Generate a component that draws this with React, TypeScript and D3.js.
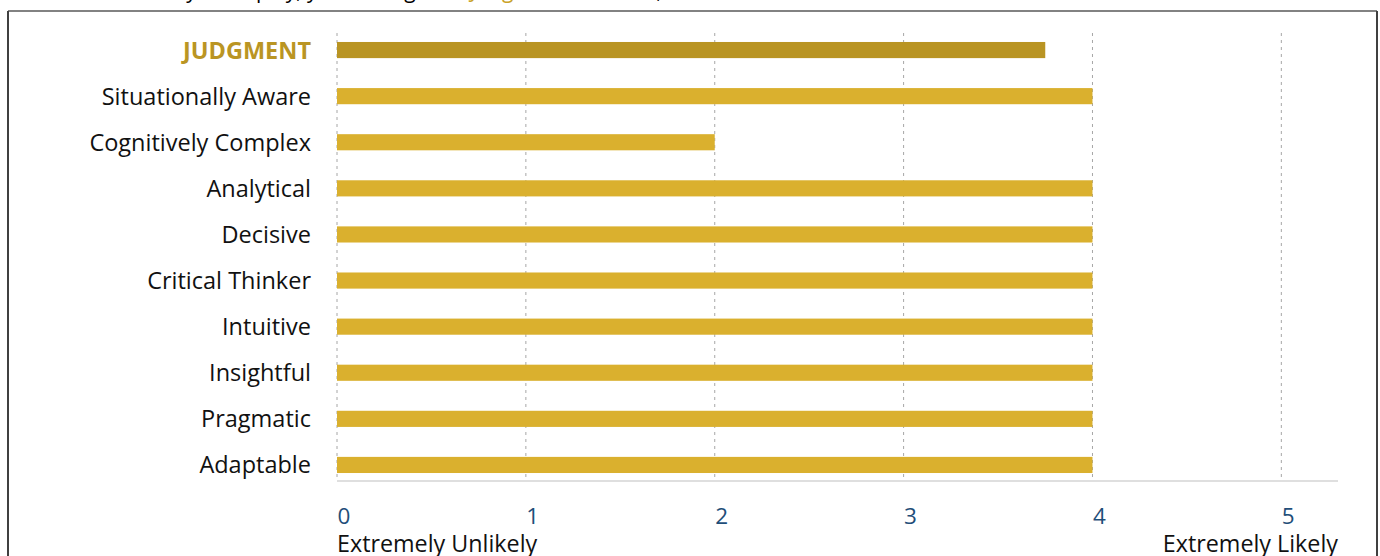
import React from "react";
import * as d3 from "d3";

const categories = [
  "JUDGMENT",
  "Situationally Aware",
  "Cognitively Complex",
  "Analytical",
  "Decisive",
  "Critical Thinker",
  "Intuitive",
  "Insightful",
  "Pragmatic",
  "Adaptable",
];
const values = [3.75, 4, 2, 4, 4, 4, 4, 4, 4, 4];
const ticks = [0, 1, 2, 3, 4, 5];
const lowLabel = "Extremely Unlikely";
const highLabel = "Extremely Likely";

const W = 1380;
const H = 556;
const FONT = "'Open Sans', sans-serif";

export default function App() {
  const x = d3.scaleLinear().domain([0, 5.3]).range([337, 1338]);
  const y = d3
    .scaleBand<string>()
    .domain(categories)
    .range([27, 488])
    .paddingInner(0.65)
    .paddingOuter(0.325);
  const axisY = 481;
  const gridTop = 33;

  return (
    <svg
      width={W}
      height={H}
      style={{ position: "absolute", left: 0, top: 0, background: "#fff" }}
      fontFamily={FONT}
    >
      {/* cut-off title above */}
      <text x={4} y={-2} fontSize={21} fill="#000">
        To what extent do you display, you manage the{" "}
        <tspan fill="#C9A227">Judgment</tspan> behavior, as elements
      </text>
      {/* frame */}
      <line x1={8} x2={1377} y1={11} y2={11} stroke="#595959" strokeWidth={1.5} />
      <line x1={8} x2={8} y1={11} y2={H} stroke="#404040" strokeWidth={2} />
      <line x1={1377} x2={1377} y1={11} y2={H} stroke="#404040" strokeWidth={2} />

      {/* gridlines */}
      {ticks.map((t) => (
        <line
          key={"g" + t}
          x1={x(t)}
          x2={x(t)}
          y1={gridTop}
          y2={axisY}
          stroke="#A6A6A6"
          strokeWidth={1}
          strokeDasharray="3,4"
        />
      ))}
      {/* axis line */}
      <line x1={x(0)} x2={x(5.3)} y1={axisY} y2={axisY} stroke="#BFBFBF" strokeWidth={1.2} />

      {/* bars */}
      {categories.map((c, i) => (
        <rect
          key={c}
          x={x(0)}
          y={y(c)!}
          width={x(values[i]) - x(0)}
          height={y.bandwidth()}
          fill={i === 0 ? "#B99423" : "#DAB02E"}
        />
      ))}

      {/* category labels */}
      {categories.map((c, i) => (
        <text
          key={"l" + c}
          x={311}
          y={y(c)! + y.bandwidth() / 2}
          dy="0.36em"
          textAnchor="end"
          fontSize={i === 0 ? 23.5 : 23.5}
          fontWeight={i === 0 ? 700 : 400}
          fill={i === 0 ? "#BA9523" : "#111"}
        >
          {c}
        </text>
      ))}

      {/* tick labels */}
      {ticks.map((t) => (
        <text key={"t" + t} x={x(t) + 0.5} y={524} fontSize={22.5} fill="#1F4E79">
          {t}
        </text>
      ))}
      <text x={x(0)} y={552} fontSize={23.3} fill="#111">
        {lowLabel}
      </text>
      <text x={1338} y={552} fontSize={23.3} fill="#111" textAnchor="end">
        {highLabel}
      </text>
    </svg>
  );
}
